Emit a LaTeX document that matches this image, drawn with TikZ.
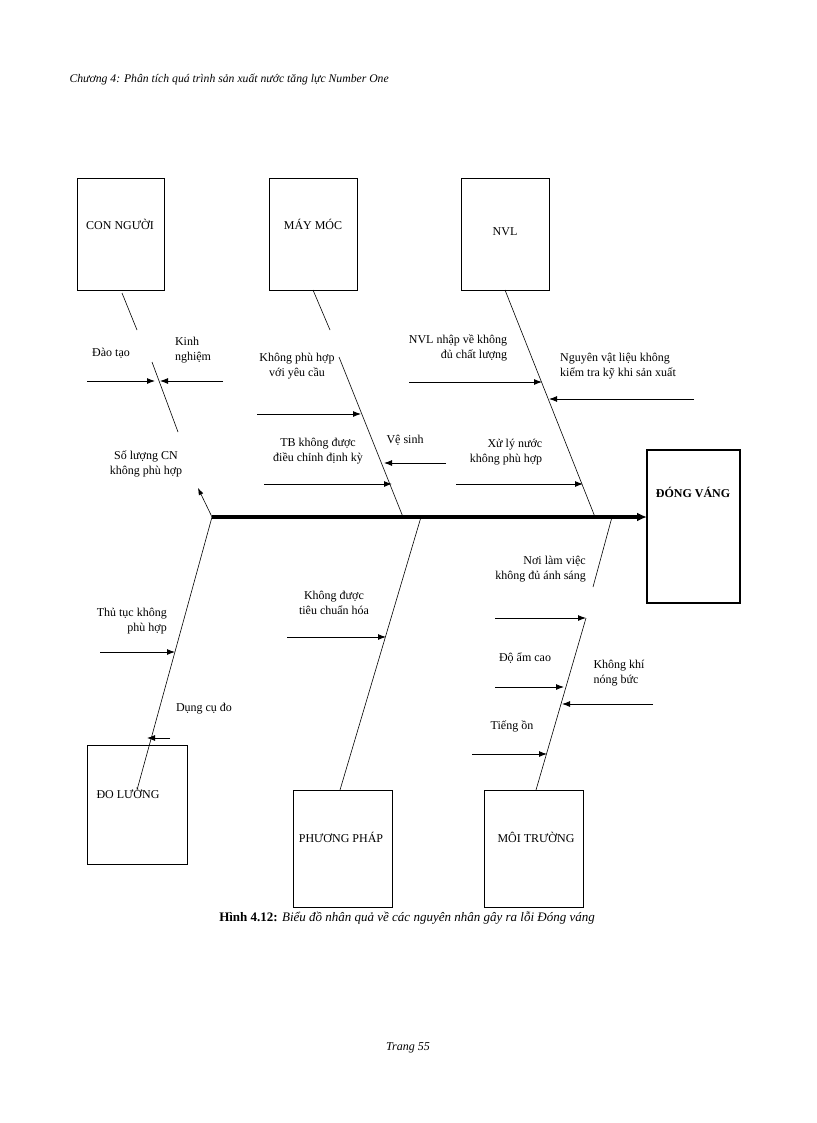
\documentclass[tikz,border=0pt]{standalone}
\usepackage{fontspec}
\setmainfont{Liberation Serif}
\usetikzlibrary{arrows.meta}
\begin{document}
\begin{tikzpicture}[x=1pt,y=-1pt,
  box/.style={draw,line width=0.9pt,font=\fontsize{12}{14}\selectfont},
  lbl/.style={font=\fontsize{12}{15}\selectfont,align=center,inner sep=0pt},
  bone/.style={line width=0.6pt},
  cause/.style={line width=0.9pt,-{Latex[length=8pt,width=6pt]}}]
\useasboundingbox (0,0) rectangle (816,1123);
\node[anchor=west,font=\fontsize{11.7}{13}\selectfont\itshape] (hdr) at (66,80) {Chương 4: Phân tích quá trình sản xuất nước tăng lực Number One};
% boxes
\draw[box] (77,178) rectangle (164,290); \node[lbl] (cn) at (120,224) {CON NGƯỜI};
\draw[box] (269,178) rectangle (357,290); \node[lbl] (mm) at (313,224) {MÁY MÓC};
\draw[box] (461,178) rectangle (549,290); \node[lbl] (nvl) at (505,232) {NVL};
\draw[box,line width=2.5pt] (647,450) rectangle (740,603); \node[lbl,font=\fontsize{12}{15}\selectfont\bfseries] (dv) at (693,492) {ĐÓNG VÁNG};
\draw[box] (87,745) rectangle (187,864); \node[lbl] (dl) at (128,793) {ĐO LƯỜNG};
\draw[box] (293,790) rectangle (392,907); \node[lbl] (pp) at (341,837) {PHƯƠNG PHÁP};
\draw[box] (484,790) rectangle (583,907); \node[lbl] (mt) at (536,837) {MÔI TRƯỜNG};
% spine
\coordinate (s0) at (212,517); \coordinate (s1) at (647,517);
\draw[line width=3.5pt,-{Latex[length=10pt,width=9pt]}] (s0) -- (s1);
% bones
\draw[bone] (122,293) -- (137,330);
\draw[bone] (152,362) -- (178,432);
\draw[bone,-{Latex[length=7pt,width=5pt]}] (s0) -- (198,488);
\draw[bone] (313,290) -- (330,330);
\draw[bone] (339,357) -- (403,517);
\draw[bone] (505,290) -- (595,517);
\draw[bone] (s0) -- (137,790);
\draw[bone] (421,517) -- (340,790);
\draw[bone] (612,517) -- (593,587);
\draw[bone] (586,618) -- (536,790);
% causes
\draw[cause] (87,381) -- (155,381);
\draw[cause] (223,381) -- (160,381);
\node[lbl] (t1) at (111,353) {Đào tạo};
\node[lbl,align=left] (t2) at (193,350) {Kinh\\nghiệm};
\node[lbl] (t3) at (146,464) {Số lượng CN\\không phù hợp};
\draw[cause] (257,414) -- (361,414);
\node[lbl] (t4) at (297,366) {Không phù hợp\\với yêu cầu};
\draw[cause] (446,463) -- (384,463);
\node[lbl] (t5) at (405,440) {Vệ sinh};
\draw[cause] (264,484) -- (392,484);
\node[lbl] (t6) at (318,451) {TB không được\\điều chỉnh định kỳ};
\draw[cause] (409,382) -- (542,382);
\node[lbl,align=right] (t7) at (458,348) {NVL nhập về không\\đủ chất lượng};
\draw[cause] (694,399) -- (549,399);
\node[lbl,align=left] (t8) at (618,366) {Nguyên vật liệu không\\kiểm tra kỹ khi sản xuất};
\draw[cause] (456,484) -- (583,484);
\node[lbl,align=right] (t9) at (506,452) {Xử lý nước\\không phù hợp};
\node[lbl,align=right,anchor=east] (t10) at (586,569) {Nơi làm việc\\không đủ ánh sáng};
\draw[cause] (100,652) -- (175,652);
\node[lbl,align=right,anchor=east] (t11) at (167,621) {Thủ tục không\\phù hợp};
\draw[cause] (170,738) -- (147,738);
\node[lbl] (t12) at (204,709) {Dụng cụ đo};
\draw[cause] (287,637) -- (386,637);
\node[lbl] (t13) at (334,603) {Không được\\tiêu chuẩn hóa};
\draw[cause] (495,618) -- (586,618);
\draw[cause] (495,687) -- (564,687);
\node[lbl] (t14) at (525,658) {Độ ẩm cao};
\draw[cause] (653,704) -- (562,704);
\node[lbl,align=left] (t15) at (619,673) {Không khí\\nóng bức};
\draw[cause] (472,754) -- (547,754);
\node[lbl] (t16) at (512,726) {Tiếng ồn};
\node[font=\fontsize{13}{15}\selectfont] (cap) at (407,918) {\textbf{Hình 4.12:} \textit{Biểu đồ nhân quả về các nguyên nhân gây ra lỗi Đóng váng}};
\node[font=\fontsize{12}{14}\selectfont\itshape] (pg) at (408,1048) {Trang 55};
\end{tikzpicture}
\end{document}
